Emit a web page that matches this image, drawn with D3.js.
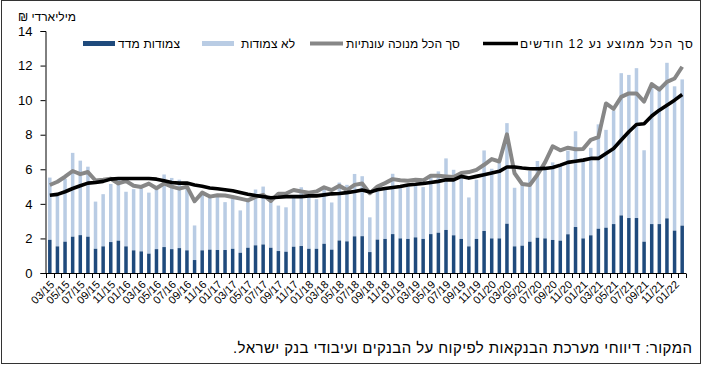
<!DOCTYPE html>
<html>
<head>
<meta charset="utf-8">
<script src="https://cdn.jsdelivr.net/npm/d3@7"></script>
<style>
body { margin: 0; background: #fff; }
text { font-family: "Liberation Sans", Arial, "DejaVu Sans", sans-serif; fill: #000; }
</style>
</head>
<body>
<svg id="main-vis" width="705" height="376"></svg>
<script>
// months 03/15 .. 02/22
var months = [
  "03/15","04/15","05/15","06/15","07/15","08/15","09/15","10/15","11/15","12/15",
  "01/16","02/16","03/16","04/16","05/16","06/16","07/16","08/16","09/16","10/16","11/16","12/16",
  "01/17","02/17","03/17","04/17","05/17","06/17","07/17","08/17","09/17","10/17","11/17","12/17",
  "01/18","02/18","03/18","04/18","05/18","06/18","07/18","08/18","09/18","10/18","11/18","12/18",
  "01/19","02/19","03/19","04/19","05/19","06/19","07/19","08/19","09/19","10/19","11/19","12/19",
  "01/20","02/20","03/20","04/20","05/20","06/20","07/20","08/20","09/20","10/20","11/20","12/20",
  "01/21","02/21","03/21","04/21","05/21","06/21","07/21","08/21","09/21","10/21","11/21","12/21",
  "01/22","02/22"
];
// צמודות מדד
var indexed = [
  1.92,1.54,1.81,2.10,2.19,2.10,1.40,1.54,1.79,1.87,
  1.54,1.31,1.25,1.12,1.38,1.50,1.38,1.44,1.31,0.75,1.31,1.35,
  1.33,1.33,1.40,1.17,1.46,1.60,1.65,1.46,1.27,1.23,1.52,1.56,
  1.40,1.40,1.69,1.35,1.88,1.83,2.12,2.13,1.21,1.93,1.97,2.25,
  2.00,1.97,2.06,1.97,2.25,2.33,2.49,2.18,1.97,1.54,1.97,2.43,
  2.00,2.00,2.85,1.54,1.58,1.81,2.04,2.00,1.91,1.87,2.24,2.66,
  2.00,2.18,2.56,2.62,2.83,3.33,3.18,3.18,1.81,2.83,2.83,3.16,
  2.45,2.74
];
// לא צמודות
var nonIndexed = [
  3.60,3.06,3.64,4.85,4.31,4.05,2.73,3.02,3.36,3.65,
  3.16,3.54,3.65,3.53,3.62,4.20,4.12,3.96,3.59,2.00,3.24,3.02,
  3.12,2.77,2.95,2.45,2.69,3.23,3.35,2.74,2.63,2.57,2.88,3.40,
  3.00,2.87,3.16,2.73,3.35,3.27,3.61,3.47,2.01,2.79,2.85,3.49,
  2.91,3.03,3.04,3.00,3.43,3.55,4.14,3.79,3.62,2.83,3.43,4.66,
  4.03,4.40,5.82,3.39,3.52,4.09,4.44,4.15,4.49,4.33,4.84,5.54,
  4.48,5.06,6.04,5.66,6.57,8.23,8.28,8.67,5.29,8.02,7.97,9.00,
  8.35,8.46
];
// סך הכל מנוכה עונתיות
var seasAdj = [
  5.09,5.28,5.57,5.90,5.72,5.84,5.35,5.39,5.45,5.18,
  5.32,5.05,4.98,5.17,4.90,5.18,5.00,4.88,5.00,4.15,4.65,4.42,
  4.50,4.48,4.40,4.30,4.20,4.40,4.52,4.17,4.58,4.60,4.80,4.71,
  4.65,4.71,4.96,4.80,5.04,4.80,5.10,5.18,4.62,5.00,5.20,5.43,
  5.36,5.34,5.39,5.36,5.63,5.63,5.59,5.55,5.78,5.84,5.97,6.26,
  6.59,6.45,8.02,5.77,5.15,5.09,5.68,6.40,7.33,7.10,7.25,7.16,
  7.18,7.70,7.86,9.81,9.50,10.19,10.39,10.39,9.92,10.93,10.61,11.06,
  11.25,11.93
];
// סך הכל ממוצע נע 12 חודשים
var movAvg = [
  4.50,4.55,4.70,4.89,5.05,5.20,5.24,5.30,5.43,5.47,
  5.47,5.47,5.47,5.47,5.43,5.34,5.24,5.20,5.20,5.09,5.02,4.92,
  4.87,4.82,4.76,4.66,4.56,4.48,4.42,4.35,4.38,4.42,4.42,4.42,
  4.46,4.46,4.52,4.58,4.60,4.65,4.71,4.80,4.68,4.82,4.89,4.95,
  5.00,5.09,5.13,5.18,5.24,5.30,5.39,5.39,5.59,5.49,5.59,5.68,
  5.78,5.88,6.13,6.13,6.07,6.03,6.03,6.05,6.10,6.24,6.40,6.47,
  6.53,6.63,6.63,6.92,7.20,7.69,8.17,8.59,8.63,9.08,9.42,9.71,
  10.00,10.33
];
var yTicks = [0, 2, 4, 6, 8, 10, 12, 14];
var legendLabels = ["צמודות מדד", "לא צמודות", "סך הכל מנוכה עונתיות", "סך הכל ממוצע נע 12 חודשים"];
var unitLabel = "מיליארדי ₪";
var sourceText = "המקור: דיווחי מערכת הבנקאות לפיקוח על הבנקים ועיבודי בנק ישראל.";

var darkBlue = "#1f4a7c";
var lightBlue = "#b9cce4";
var grayLine = "#878787";

var svg = d3.select("#main-vis");

// outer frame
svg.append("rect")
  .attr("x", 1.5).attr("y", 0.5)
  .attr("width", 699).attr("height", 363)
  .attr("fill", "none").attr("stroke", "#333").attr("stroke-width", 1);

var x = d3.scaleBand()
  .domain(months)
  .range([46, 686])
  .paddingInner(0.54)
  .paddingOuter(0.27);

var y = d3.scaleLinear()
  .domain([0, 14])
  .range([273, 31]);

var rows = months.map(function (m, i) {
  return { m: m, a: indexed[i], b: nonIndexed[i], s: seasAdj[i], avg: movAvg[i] };
});

// bars: indexed at the bottom, non-indexed stacked on top
svg.selectAll(".bar-b")
  .data(rows)
  .enter()
  .append("rect")
    .attr("class", "bar-b")
    .attr("x", d => x(d.m))
    .attr("width", x.bandwidth())
    .attr("y", d => y(d.a + d.b))
    .attr("height", d => y(d.a) - y(d.a + d.b))
    .attr("fill", lightBlue);

svg.selectAll(".bar-a")
  .data(rows)
  .enter()
  .append("rect")
    .attr("class", "bar-a")
    .attr("x", d => x(d.m))
    .attr("width", x.bandwidth())
    .attr("y", d => y(d.a))
    .attr("height", d => y(0) - y(d.a))
    .attr("fill", darkBlue);

var cx = d => x(d.m) + x.bandwidth() / 2;

var lineS = d3.line().x(cx).y(d => y(d.s));
var lineA = d3.line().x(cx).y(d => y(d.avg));

svg.append("path")
  .datum(rows)
  .attr("fill", "none")
  .attr("stroke", grayLine)
  .attr("stroke-width", 4)
  .attr("stroke-linejoin", "round")
  .attr("d", lineS);

svg.append("path")
  .datum(rows)
  .attr("fill", "none")
  .attr("stroke", "#000")
  .attr("stroke-width", 3.6)
  .attr("stroke-linejoin", "round")
  .attr("d", lineA);

// y axis
var yAxis = svg.append("g")
  .attr("transform", "translate(45.5,0)")
  .call(d3.axisLeft(y).tickValues(yTicks).tickSize(5).tickPadding(8));
yAxis.select(".domain").attr("stroke", "#000");
yAxis.selectAll(".tick line").attr("stroke", "#000");
yAxis.selectAll("text")
  .style("font-size", "13px")
  .style("font-family", "'Liberation Sans', Arial, sans-serif");

// x axis: line, a tick at every category border, label every second month
var step = x.step();
var borders = d3.range(months.length + 1).map(i => 46 + i * step);
svg.append("line")
  .attr("x1", 45.5).attr("x2", 686)
  .attr("y1", 273.5).attr("y2", 273.5)
  .attr("stroke", "#000");
svg.selectAll(".xtick")
  .data(borders)
  .enter()
  .append("line")
    .attr("class", "xtick")
    .attr("x1", d => Math.round(d) + 0.5).attr("x2", d => Math.round(d) + 0.5)
    .attr("y1", 273.5).attr("y2", 278)
    .attr("stroke", "#000");

svg.selectAll(".xlabel")
  .data(months.filter((m, i) => i % 2 === 0))
  .enter()
  .append("text")
    .attr("class", "xlabel")
    .attr("text-anchor", "end")
    .attr("transform", d => "translate(" + (cx({ m: d }) + 2.5) + ",282.5) rotate(-45)")
    .attr("dy", "0.35em")
    .style("font-size", "11px")
    .text(d => d);

// unit label
svg.append("text")
  .attr("x", 76).attr("y", 21)
  .attr("direction", "rtl")
  .attr("text-anchor", "start")
  .style("font-size", "12px")
  .text(unitLabel);

// legend
var legend = svg.append("g");
legend.append("rect").attr("x", 83).attr("y", 41).attr("width", 32).attr("height", 5).attr("fill", darkBlue);
legend.append("rect").attr("x", 202).attr("y", 41).attr("width", 32).attr("height", 5).attr("fill", lightBlue);
legend.append("line").attr("x1", 310).attr("x2", 343).attr("y1", 43.5).attr("y2", 43.5)
  .attr("stroke", grayLine).attr("stroke-width", 4);
legend.append("line").attr("x1", 483).attr("x2", 518).attr("y1", 43.5).attr("y2", 43.5)
  .attr("stroke", "#000").attr("stroke-width", 3.6);

var legendRight = [180, 295, 460, 693];
var legendWidth = [62, 54, 114, 173];
legend.selectAll(".ltext")
  .data(legendLabels)
  .enter()
  .append("text")
    .attr("class", "ltext")
    .attr("x", (d, i) => legendRight[i])
    .attr("y", 48)
    .attr("direction", "rtl")
    .attr("text-anchor", "start")
    .attr("textLength", (d, i) => legendWidth[i])
    .attr("lengthAdjust", "spacing")
    .style("font-size", "12px")
    .text(d => d);

// source
svg.append("text")
  .attr("x", 692).attr("y", 353)
  .attr("direction", "rtl")
  .attr("text-anchor", "start")
  .attr("textLength", 459)
  .attr("lengthAdjust", "spacing")
  .style("font-size", "15px")
  .text(sourceText);
</script>
</body>
</html>
